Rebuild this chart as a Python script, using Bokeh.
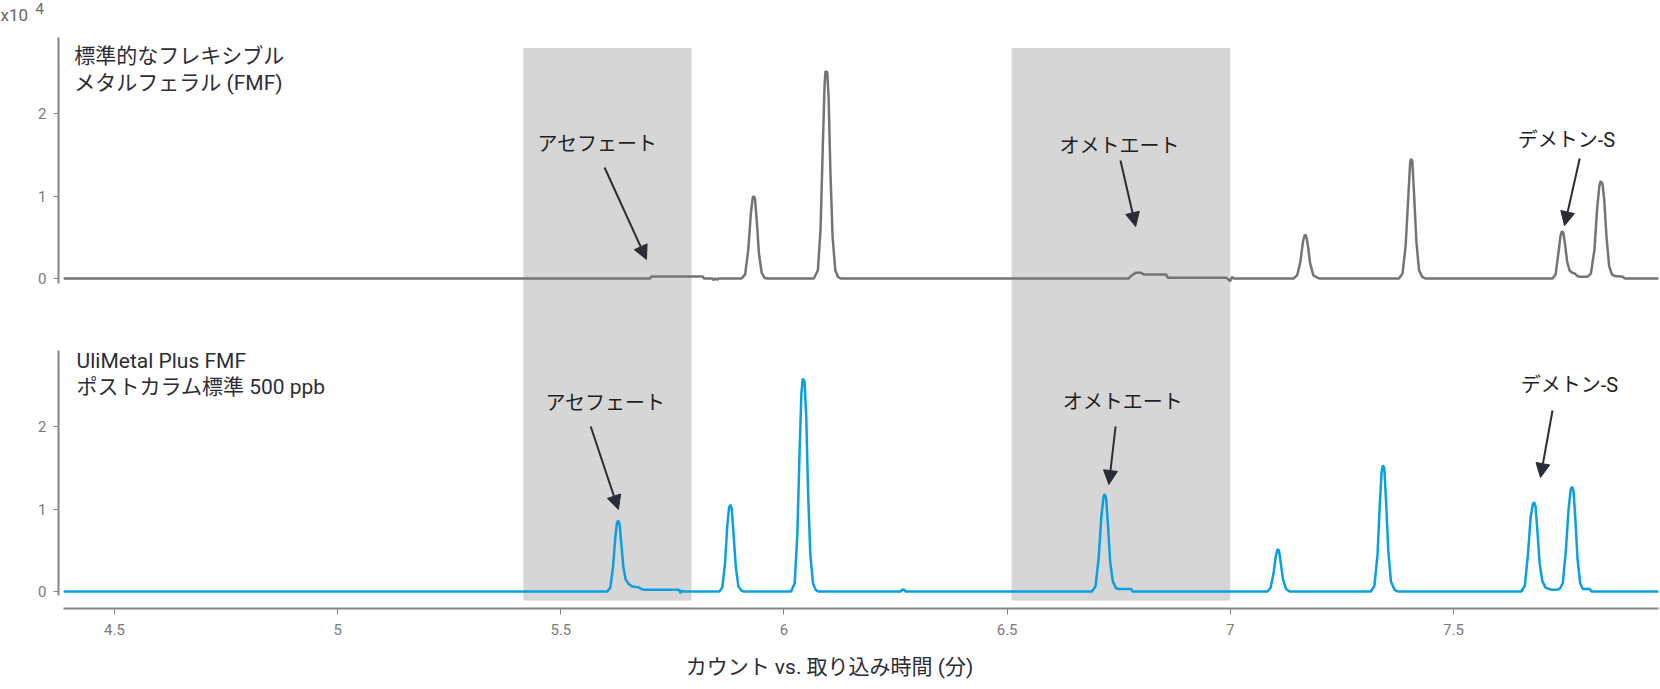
from bokeh.plotting import figure
from bokeh.models import Range1d, Arrow, NormalHead, Label, FixedTicker, LinearAxis
from bokeh.embed import file_html
from bokeh.resources import INLINE

# ---------------- data (retention time in min, counts in x10^4) ----------------
top_rt = [4.386, 5.700, 5.703, 5.818, 5.821, 5.840, 5.842, 5.846, 5.850, 5.853,
          5.905, 5.913, 5.920, 5.926, 5.930, 5.932, 5.935, 5.939, 5.944, 5.950, 5.956, 5.962,
          6.067, 6.076, 6.082, 6.087, 6.091, 6.093, 6.097, 6.100, 6.104, 6.109, 6.115, 6.121, 6.127,
          6.772, 6.780, 6.788, 6.800, 6.806, 6.856, 6.860, 6.990, 6.993, 7.000, 7.004, 7.008,
          7.142, 7.150, 7.157, 7.163, 7.167, 7.170, 7.174, 7.179, 7.186, 7.195, 7.200,
          7.378, 7.386, 7.393, 7.399, 7.403, 7.405, 7.408, 7.412, 7.417, 7.423, 7.430, 7.437,
          7.722, 7.729, 7.735, 7.740, 7.743, 7.746, 7.750, 7.755, 7.760, 7.766, 7.772, 7.778, 7.783, 7.790,
          7.800, 7.808, 7.816, 7.822, 7.827, 7.830, 7.834, 7.838, 7.843, 7.849, 7.855, 7.862, 7.880, 7.884, 7.960]
top_counts = [0, 0, 0.025, 0.025, 0, 0, -0.02, 0, -0.015, 0,
              0, 0.05, 0.35, 0.8, 0.98, 1.0, 0.97, 0.7, 0.3, 0.07, 0.01, 0,
              0, 0.1, 0.6, 1.6, 2.35, 2.51, 2.5, 2.2, 1.3, 0.5, 0.1, 0.02, 0,
              0, 0.04, 0.07, 0.07, 0.05, 0.05, 0.01, 0.01, 0, -0.03, 0.02, 0,
              0, 0.04, 0.2, 0.45, 0.53, 0.52, 0.4, 0.18, 0.04, 0.01, 0,
              0, 0.06, 0.4, 1.0, 1.4, 1.45, 1.42, 1.0, 0.45, 0.1, 0.02, 0,
              0, 0.05, 0.3, 0.52, 0.57, 0.56, 0.42, 0.2, 0.1, 0.07, 0.06, 0.03, 0.02, 0.02,
              0.02, 0.06, 0.35, 0.85, 1.12, 1.18, 1.15, 0.95, 0.5, 0.15, 0.05, 0.03, 0.02, 0, 0]

bot_rt = [4.386, 5.604, 5.611, 5.617, 5.622, 5.626, 5.629, 5.632, 5.636, 5.640, 5.645, 5.652, 5.660,
          5.675, 5.680, 5.688, 5.765, 5.768, 5.771, 5.774,
          5.855, 5.862, 5.868, 5.873, 5.877, 5.880, 5.883, 5.887, 5.892, 5.898, 5.905, 5.910,
          6.016, 6.024, 6.030, 6.035, 6.039, 6.042, 6.046, 6.050, 6.054, 6.059, 6.065, 6.071, 6.077,
          6.262, 6.264, 6.270, 6.272,
          6.690, 6.698, 6.705, 6.711, 6.716, 6.719, 6.722, 6.726, 6.731, 6.737, 6.744, 6.750, 6.778, 6.781,
          7.083, 7.090, 7.097, 7.102, 7.106, 7.109, 7.113, 7.118, 7.125, 7.133,
          7.315, 7.323, 7.330, 7.335, 7.339, 7.342, 7.345, 7.349, 7.354, 7.360, 7.368, 7.376,
          7.652, 7.660, 7.667, 7.673, 7.678, 7.681, 7.684, 7.688, 7.693, 7.699, 7.706, 7.714, 7.722, 7.728,
          7.738, 7.745, 7.752, 7.758, 7.763, 7.766, 7.769, 7.773, 7.778, 7.784, 7.790, 7.806, 7.809, 7.960]
bot_counts = [0, 0, 0.05, 0.3, 0.65, 0.84, 0.86, 0.8, 0.55, 0.3, 0.15, 0.09, 0.06,
              0.05, 0.03, 0.02, 0.02, -0.02, 0.01, 0,
              0, 0.05, 0.35, 0.8, 1.02, 1.05, 1.0, 0.7, 0.3, 0.06, 0.01, 0,
              0, 0.1, 0.7, 1.7, 2.4, 2.58, 2.55, 2.1, 1.2, 0.45, 0.1, 0.02, 0,
              0, 0.02, 0.02, 0,
              0, 0.06, 0.4, 0.9, 1.15, 1.18, 1.12, 0.8, 0.35, 0.12, 0.04, 0.03, 0.03, 0,
              0, 0.04, 0.22, 0.43, 0.51, 0.5, 0.35, 0.15, 0.03, 0,
              0, 0.07, 0.45, 1.05, 1.45, 1.53, 1.5, 1.1, 0.5, 0.12, 0.02, 0,
              0, 0.07, 0.45, 0.9, 1.06, 1.08, 1.03, 0.75, 0.35, 0.13, 0.05, 0.03, 0.02, 0.02,
              0.03, 0.1, 0.5, 1.0, 1.24, 1.27, 1.22, 0.9, 0.4, 0.1, 0.03, 0.03, 0, 0]

band_start = [5.416, 6.510]
band_end = [5.793, 7.000]

x_ticks = [4.5, 5, 5.5, 6, 6.5, 7, 7.5]
x_tick_labels = ["4.5", "5", "5.5", "6", "6.5", "7", "7.5"]
y_ticks = [0, 1, 2]
y_tick_labels = ["0", "1", "2"]

top_title = ["標準的なフレキシブル", "メタルフェラル (FMF)"]
bot_title = ["UliMetal Plus FMF", "ポストカラム標準 500 ppb"]

compounds = ["アセフェート", "オメトエート", "デメトン-S"]
# annotation positions (text x, text y) and arrows (start x, start y, tip x, tip y)
top_ann_text = [(5.582, 1.636), (6.752, 1.612), (7.753, 1.673)]
top_ann_arrow = [(5.598, 1.345, 5.692, 0.23), (6.754, 1.43, 6.788, 0.63), (7.783, 1.455, 7.749, 0.64)]
bot_ann_text = [(5.600, 2.279), (6.759, 2.291), (7.760, 2.497)]
bot_ann_arrow = [(5.567, 2.0, 5.629, 0.994), (6.743, 2.0, 6.728, 1.297), (7.722, 2.194, 7.695, 1.382)]

x_label = "カウント vs. 取り込み時間 (分)"
scale_label = ["x10", "4"]

# ---------------- styles ----------------
FONT = "Roboto, Noto Sans CJK JP"
GRAY_TRACE = "#727578"
BLUE_TRACE = "#0a9fe0"
BAND = "#d6d6d6"
AXIS = "#858585"
TICKLAB = "#7a7a7a"
DARK = "#2b2d36"

XS, XAX, X1 = 4.2445, 4.3745, 7.9595   # plot start, y-axis position, plot end

p = figure(width=1660, height=689, output_backend="svg", toolbar_location=None,
           x_range=Range1d(XS, X1), y_range=Range1d(-0.206, 7.1636),
           min_border_left=0, min_border_right=2, min_border_top=0, min_border_bottom=81)
p.extra_y_ranges = {"top": Range1d(-4.0, 3.3697)}
p.outline_line_color = None
p.xgrid.visible = False
p.ygrid.visible = False

# scale factor label
p.add_layout(Label(x=XS, y=3.195, y_range_name="top", text=scale_label[0], text_align="left",
                   text_baseline="middle", text_font=FONT, text_font_size="17px", text_color="#666666"))
p.add_layout(Label(x=4.3229, y=3.27, y_range_name="top", text=scale_label[1], text_align="left",
                   text_baseline="middle", text_font=FONT, text_font_size="15px", text_color="#666666"))

# shaded windows spanning both panels
p.quad(left=band_start, right=band_end, bottom=[-0.109, -0.109], top=[6.587, 6.587],
       fill_color=BAND, line_color=None)

# traces
p.line(top_rt, top_counts, line_color=GRAY_TRACE, line_width=2.5, y_range_name="top")
p.line(bot_rt, bot_counts, line_color=BLUE_TRACE, line_width=2.5)


def style_y(ax, bounds):
    ax.fixed_location = XAX
    ax.ticker = FixedTicker(ticks=y_ticks)
    ax.major_label_overrides = {t: l for t, l in zip(y_ticks, y_tick_labels)}
    ax.bounds = bounds
    ax.axis_line_color = AXIS
    ax.axis_line_width = 2
    ax.major_tick_line_color = AXIS
    ax.major_tick_out = 5
    ax.major_tick_in = 0
    ax.minor_tick_line_color = None
    ax.major_label_text_font = FONT
    ax.major_label_text_font_size = "15px"
    ax.major_label_text_color = TICKLAB
    ax.major_label_standoff = 7


style_y(p.yaxis[0], (-0.05, 2.92))
top_axis = LinearAxis(y_range_name="top")
style_y(top_axis, (-0.06, 2.92))
p.add_layout(top_axis, "left")


def annotate(texts, arrows, title_lines, title_x, title_ys, rng):
    kw = {"y_range_name": rng} if rng else {}
    for name, (tx, ty) in zip(compounds, texts):
        p.add_layout(Label(x=tx, y=ty, text=name, text_align="center", text_baseline="middle",
                           text_font=FONT, text_font_size="20px", text_color="#1f1f24", **kw))
    for (sx, sy, ex, ey) in arrows:
        p.add_layout(Arrow(x_start=sx, y_start=sy, x_end=ex, y_end=ey, line_color=DARK, line_width=2,
                           end=NormalHead(size=14, fill_color=DARK, line_color=DARK, line_width=1), **kw))
    for line, ty in zip(title_lines, title_ys):
        p.add_layout(Label(x=title_x, y=ty, text=line, text_align="left", text_baseline="middle",
                           text_font=FONT, text_font_size="21px", text_color=DARK, **kw))


annotate(top_ann_text, top_ann_arrow, top_title, 4.41, [2.691, 2.364], "top")
annotate(bot_ann_text, bot_ann_arrow, bot_title, 4.415, [2.8, 2.473], None)

xa = p.xaxis[0]
xa.ticker = FixedTicker(ticks=x_ticks)
xa.major_label_overrides = {t: l for t, l in zip(x_ticks, x_tick_labels)}
xa.bounds = (4.386, X1)
xa.axis_line_color = AXIS
xa.axis_line_width = 2
xa.major_tick_line_color = AXIS
xa.major_tick_out = 6
xa.major_tick_in = 0
xa.minor_tick_line_color = None
xa.major_label_text_font = FONT
xa.major_label_text_font_size = "15px"
xa.major_label_text_color = TICKLAB
xa.major_label_standoff = 9
xa.axis_label = x_label
xa.axis_label_text_font = FONT
xa.axis_label_text_font_size = "21px"
xa.axis_label_text_font_style = "normal"
xa.axis_label_text_color = DARK
xa.axis_label_standoff = 17

open("out.html", "w").write(file_html(p, INLINE))
